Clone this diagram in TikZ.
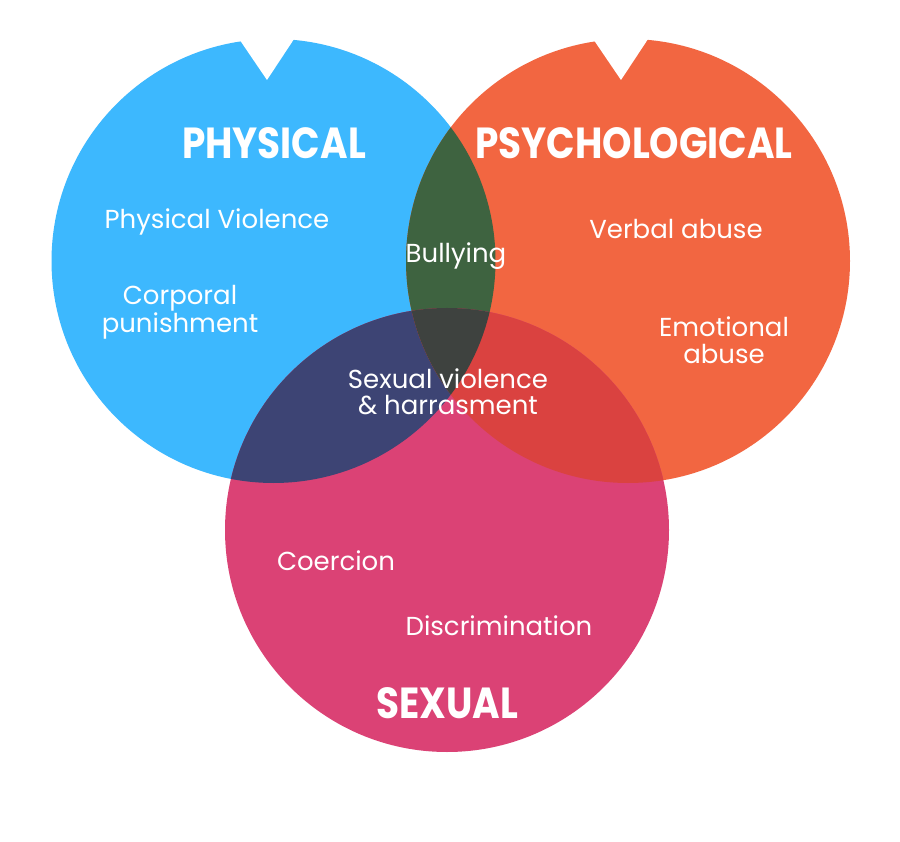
\documentclass[tikz,border=0pt]{standalone}
\usepackage{fontspec}
\setmainfont{Poppins}
\newfontfamily\headfont{Poppins}[FakeStretch=0.86]
\definecolor{cblue}{HTML}{3DB8FE}
\definecolor{corange}{HTML}{F26641}
\definecolor{cpink}{HTML}{DB4275}
\definecolor{cgreen}{HTML}{3E6340}
\definecolor{cnavy}{HTML}{3D4474}
\definecolor{cred}{HTML}{DA4240}
\definecolor{cgray}{HTML}{3E423F}
\tikzset{
  head/.style={text=white, font=\headfont\bfseries\fontsize{43.5}{46}\selectfont, inner sep=0pt},
  lbl/.style={text=white, font=\fontsize{26}{26.5}\selectfont, inner sep=0pt, align=center},
}
\begin{document}
\begin{tikzpicture}[x=1pt,y=-1pt]
\useasboundingbox (0,0) rectangle (900,842);
\fill[white] (0,0) rectangle (900,842);
\def\R{222}
\coordinate (B) at (273.5,261);
\coordinate (O) at (628,261);
\coordinate (P) at (447,530);
% base circles
\fill[cblue] (B) circle (\R);
\fill[corange] (O) circle (\R);
\fill[cpink] (P) circle (\R);
% pairwise overlaps
\begin{scope}
  \clip (B) circle (\R);
  \fill[cgreen] (O) circle (\R);
  \fill[cnavy] (P) circle (\R);
\end{scope}
\begin{scope}
  \clip (O) circle (\R);
  \fill[cred] (P) circle (\R);
\end{scope}
\begin{scope}
  \clip (B) circle (\R);
  \clip (O) circle (\R);
  \fill[cgray] (P) circle (\R);
\end{scope}
% notches
\fill[white] (233,30) -- (267,80) -- (300,30) -- cycle;
\fill[white] (587,30) -- (621,80) -- (654,30) -- cycle;
% headings
\node[head] (hphys) at (274,143) {PHYSICAL};
\node[head] (hpsy) at (634,143) {PSYCHOLOGICAL};
\node[head] (hsex) at (447,703) {SEXUAL};
% labels
\node[lbl] (pv) at (217,222) {Physical Violence};
\node[lbl] (cp) at (180,312) {Corporal\\punishment};
\node[lbl] (bu) at (456,256) {Bullying};
\node[lbl] (va) at (676,229) {Verbal abuse};
\node[lbl] (ea) at (724,340) {Emotional\\abuse};
\node[lbl] (sv) at (448,392) {Sexual violence\\\& harrasment};
\node[lbl] (co) at (336,561) {Coercion};
\node[lbl] (di) at (499,626) {Discrimination};
\end{tikzpicture}
\end{document}
